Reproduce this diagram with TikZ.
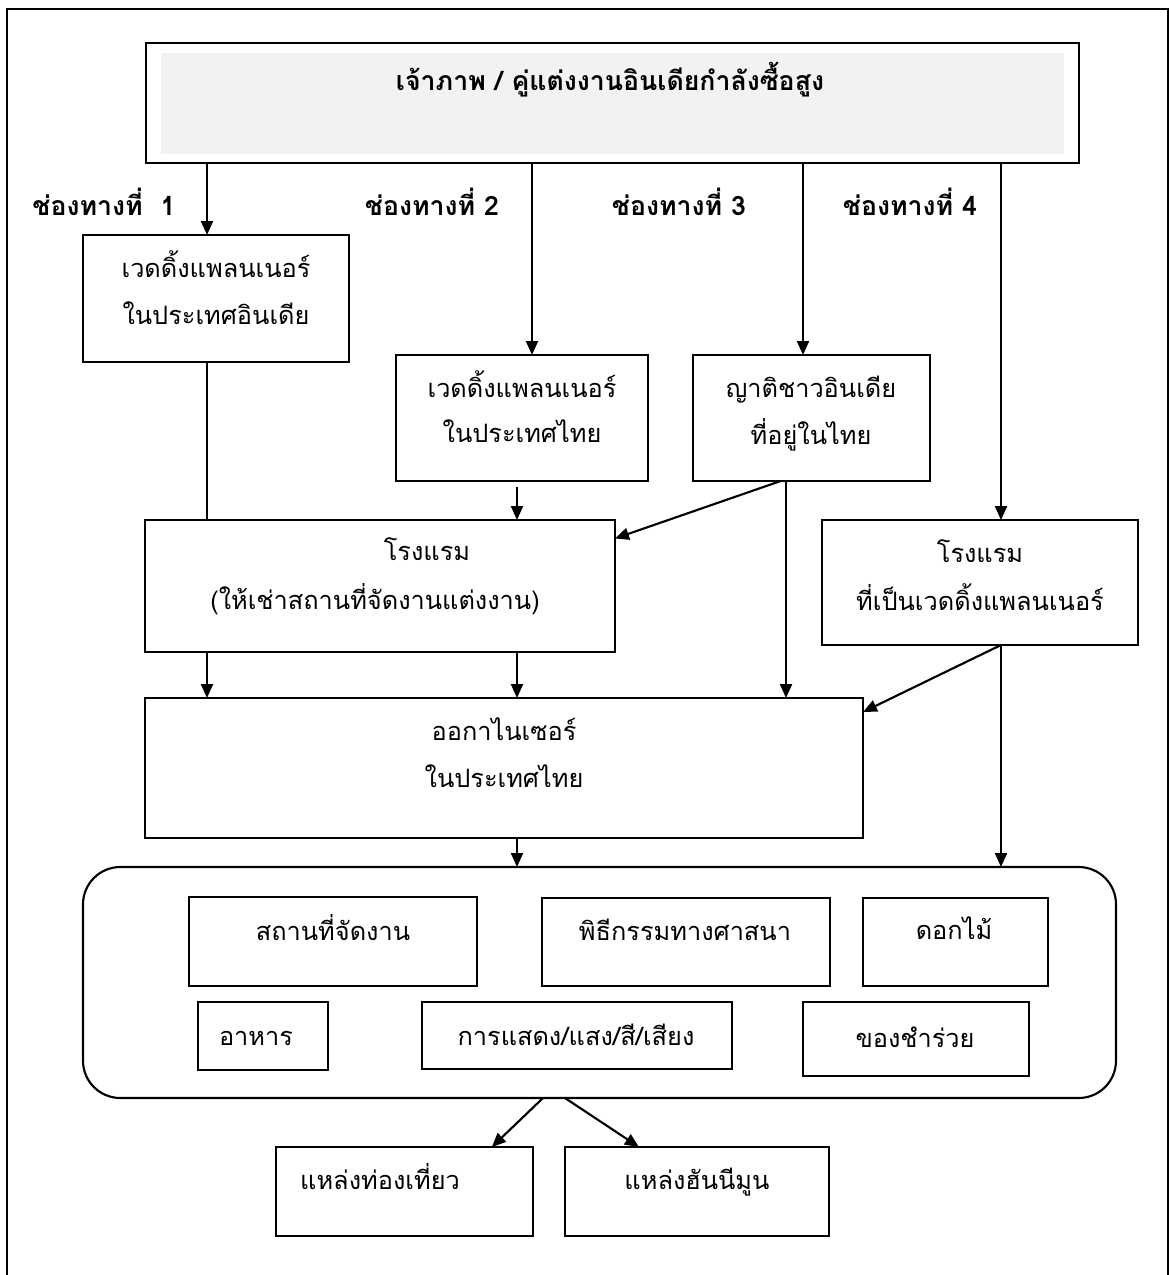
\documentclass[tikz,border=0pt]{standalone}
\usepackage{fontspec}
\newfontfamily\thai[Script=Thai]{Loma}
\usetikzlibrary{arrows.meta,calc}
\definecolor{panelgray}{HTML}{F2F2F2}
\begin{document}
\begin{tikzpicture}[x=0.75pt,y=-0.75pt,
  frameline/.style={line width=1.6pt},
  boxline/.style={draw, line width=1.6pt, inner sep=0pt, outer sep=0pt},
  wh/.style 2 args={minimum width=#1*0.75pt, minimum height=#2*0.75pt},
  txt/.style={font=\thai\fontsize{19}{22}\selectfont, anchor=mid, inner sep=0pt},
  btxt/.style={font=\thai\bfseries\fontsize{20}{22}\selectfont, anchor=mid, inner sep=0pt},
  arr/.style={line width=1.6pt, -{Triangle[length=10.5pt,width=9pt]}},
  link/.style={line width=1.6pt}]
\useasboundingbox (0,0) rectangle (1171,1275);

% open outer frame
\draw[frameline] (7,1275) -- (7,9) -- (1168,9) -- (1168,1275);

% top: the buyers
\node[boxline, wh={933}{120}] (top) at (612.5,103) {};
\fill[panelgray] (161,53) rectangle (1064,154);
\node[btxt] (toptxt) at (610,88) {เจ้าภาพ / คู่แต่งงานอินเดียกำลังซื้อสูง};

% channel labels
\node[btxt] (ch1) at (104,213) {ช่องทางที่~~1};
\node[btxt] (ch2) at (432,213) {ช่องทางที่ 2};
\node[btxt] (ch3) at (679,213) {ช่องทางที่ 3};
\node[btxt] (ch4) at (910,213) {ช่องทางที่ 4};

% channel boxes
\node[boxline, wh={266}{127}] (b1) at (216,298.5) {};
\node[txt] (b1a) at (216,275) {เวดดิ้งแพลนเนอร์};
\node[txt] (b1b) at (216,322) {ในประเทศอินเดีย};

\node[boxline, wh={252}{126}] (b2) at (522,418) {};
\node[txt] (b2a) at (522,395) {เวดดิ้งแพลนเนอร์};
\node[txt] (b2b) at (522,440) {ในประเทศไทย};

\node[boxline, wh={237}{126}] (b3) at (811.5,418) {};
\node[txt] (b3a) at (811,395) {ญาติชาวอินเดีย};
\node[txt] (b3b) at (811,442) {ที่อยู่ในไทย};

% hotels
\node[boxline, wh={470}{132}] (h1) at (380,586) {};
\node[txt] (h1a) at (427,558) {โรงแรม};
\node[txt] (h1b) at (375,607) {(ให้เช่าสถานที่จัดงานแต่งงาน)};

\node[boxline, wh={316}{125}] (h2) at (980,582.5) {};
\node[txt] (h2a) at (980,560) {โรงแรม};
\node[txt] (h2b) at (980,608) {ที่เป็นเวดดิ้งแพลนเนอร์};

% organiser
\node[boxline, wh={718}{140}] (org) at (504,768) {};
\node[txt] (orga) at (504,738) {ออกาไนเซอร์};
\node[txt] (orgb) at (504,785) {ในประเทศไทย};

% services group
\node[boxline, rounded corners=28pt, wh={1033}{231}] (grp) at (599.5,982.5) {};
\node[boxline, wh={288}{89}] (s1) at (333,941.5) {};
\node[txt] (s1t) at (333,938) {สถานที่จัดงาน};
\node[boxline, wh={288}{88}] (s2) at (686,942) {};
\node[txt] (s2t) at (685,938) {พิธีกรรมทางศาสนา};
\node[boxline, wh={185}{88}] (s3) at (955.5,942) {};
\node[txt] (s3t) at (954,937) {ดอกไม้};
\node[boxline, wh={130}{68}] (s4) at (263,1036) {};
\node[txt] (s4t) at (256,1043) {อาหาร};
\node[boxline, wh={310}{67}] (s5) at (577,1035.5) {};
\node[txt] (s5t) at (576,1043) {การแสดง/แสง/สี/เสียง};
\node[boxline, wh={226}{74}] (s6) at (916,1039) {};
\node[txt] (s6t) at (915,1045) {ของชำร่วย};

% destinations
\node[boxline, wh={257}{89}] (d1) at (404.5,1191.5) {};
\node[txt] (d1t) at (380,1187) {แหล่งท่องเที่ยว};
\node[boxline, wh={264}{89}] (d2) at (697,1191.5) {};
\node[txt] (d2t) at (697,1187) {แหล่งฮันนีมูน};

% connector columns
\coordinate (xa) at (207,0);
\coordinate (xb) at (532,0);
\coordinate (xc) at (803,0);
\coordinate (xd) at (1001,0);
\coordinate (xe) at (517,0);
\coordinate (xf) at (786,0);
\coordinate (b2out) at (517,487);

% connectors
\draw[arr] (top.south -| xa) -- (b1.north -| xa);
\draw[arr] (top.south -| xb) -- (b2.north -| xb);
\draw[arr] (top.south -| xc) -- (b3.north -| xc);
\draw[arr] (top.south -| xd) -- (h2.north -| xd);

\draw[link] (b1.south -| xa) -- (h1.north -| xa);
\draw[arr] (b2out) -- (h1.north -| xe);
\draw[arr] ($(b3.south west)!0.37!(b3.south east)$) -- ($(h1.north east)!0.14!(h1.south east)$);
\draw[arr] (b3.south -| xf) -- (org.north -| xf);

\draw[arr] (h1.south -| xa) -- (org.north -| xa);
\draw[arr] (h1.south -| xe) -- (org.north -| xe);
\draw[arr] (h2.south -| xd) -- ($(org.north east)!0.1!(org.south east)$);
\draw[arr] (h2.south -| xd) -- (grp.north -| xd);
\draw[arr] (org.south -| xe) -- (grp.north -| xe);

\draw[arr] (grp.south -| 543,0) -- ($(d1.north west)!0.84!(d1.north east)$);
\draw[arr] (grp.south -| 565,0) -- ($(d2.north west)!0.28!(d2.north east)$);
\end{tikzpicture}
\end{document}
